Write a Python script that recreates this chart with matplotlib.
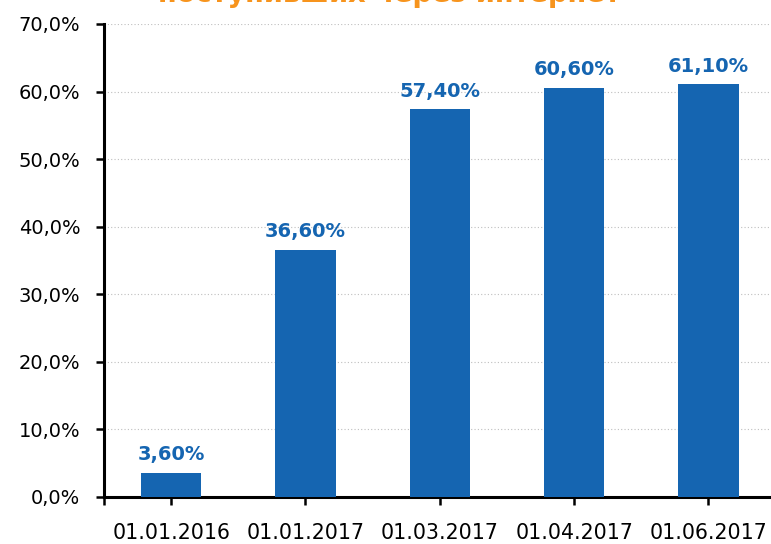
import matplotlib.pyplot as plt

dates = ['01.01.2016', '01.01.2017', '01.03.2017', '01.04.2017', '01.06.2017']
shares = [3.6, 36.6, 57.4, 60.6, 61.1]
value_labels = ['3,60%', '36,60%', '57,40%', '60,60%', '61,10%']
y_ticks = [0, 10, 20, 30, 40, 50, 60, 70]
y_tick_labels = ['0,0%', '10,0%', '20,0%', '30,0%', '40,0%', '50,0%', '60,0%', '70,0%']

blue = '#1565B1'
orange = '#F7941D'

fig = plt.figure(figsize=(7.71, 5.44), dpi=100)
ax = fig.add_axes([0.1349, 0.0864, 0.871, 0.8695])

x = list(range(len(dates)))
bars = ax.bar(x, shares, width=0.45, color=blue, zorder=3)

# value labels above bars
for xi, v, lab in zip(x, shares, value_labels):
    ax.annotate(lab, (xi, v), xytext=(0, 6), textcoords='offset points',
                ha='center', va='bottom', fontsize=14, fontweight='bold',
                color=blue)

ax.set_xlim(-0.5, 4.5)
ax.set_ylim(0, 70)
ax.set_yticks(y_ticks)
ax.set_yticklabels(y_tick_labels, fontsize=14)
ax.set_xticks([-0.5] + x)
ax.set_xticklabels([''] + dates, fontsize=14.8)

ax.tick_params(axis='both', direction='out', length=6, width=1.8, pad=11,
               color='black')
ax.tick_params(axis='x', pad=13)
for side in ['top', 'right']:
    ax.spines[side].set_visible(False)
for side in ['left', 'bottom']:
    ax.spines[side].set_linewidth(2.2)

ax.yaxis.grid(True, linestyle=(0, (1, 2)), color='#BFBFBF', linewidth=0.8, zorder=0)
ax.set_axisbelow(True)

# second line of the title, cut off by the top edge as in the original
fig.text(0.505, 0.997, 'поступивших через интернет', ha='center', va='baseline',
         fontsize=19.6, fontweight='bold', color=orange)

fig.savefig('out.png', dpi=100)
